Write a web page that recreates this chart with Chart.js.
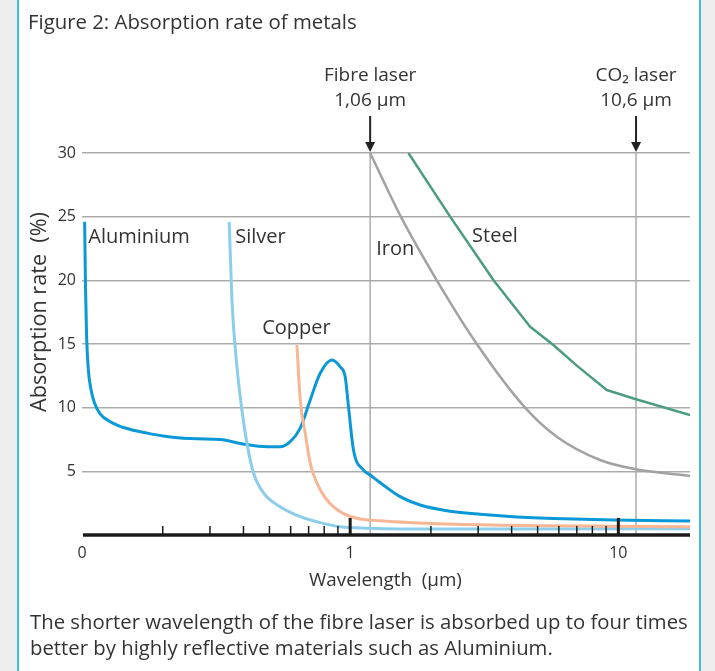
<!DOCTYPE html>
<html><head><meta charset="utf-8">
<script src="https://cdn.jsdelivr.net/npm/chart.js@4.4.1/dist/chart.umd.min.js"></script>
<style>
html,body{margin:0;padding:0;}
body{width:715px;height:671px;background:#eeeeee;position:relative;overflow:hidden;font-family:"Open Sans",sans-serif;color:#333;}
#panel{position:absolute;left:17px;top:0;width:680px;height:671px;background:#fff;border-left:2px solid #3cbde0;border-right:2px solid #3cbde0;}
#c{position:absolute;left:0;top:0;}
.t{position:absolute;white-space:nowrap;color:#333;line-height:26px;font-size:19px;}
#title{left:28px;top:8px;}
#cap1{left:30px;top:608px;}
#cap2{left:30px;top:634px;}
#xtitle{left:309px;top:566px;}
#ytitle{left:38px;top:312px;transform-origin:0 0;transform:translate(-13px,100px) rotate(-90deg);}
</style>
</head><body>
<div id="panel"></div>
<canvas id="c" width="715" height="671"></canvas>
<div class="t" id="title" data-w="329">Figure 2: Absorption rate of metals</div>
<div class="t" id="xtitle" data-w="153">Wavelength&nbsp; (µm)</div>
<div class="t" id="ytitle" data-w="200">Absorption rate&nbsp; (%)</div>
<div class="t" id="cap1" data-w="658">The shorter wavelength of the fibre laser is absorbed up to four times</div>
<div class="t" id="cap2">better by highly reflective materials such as Aluminium.</div>
<script>
// ---- data (wavelength in µm, absorption rate in %) ----
const aluminiumX = [0.1023,0.10305,0.10403,0.10556,0.10784,0.11112,0.117,0.1275,0.145,0.1747,0.2133,0.2684,0.3277,0.398,0.4904,0.548,0.5976,0.6514,0.7095,0.773,0.8547,0.918,0.958,0.9856,1.0287,1.121,1.187,1.294,1.536,1.823,2.293,3.052,4.06,6.24,9.58,18.5];
const aluminiumY = [24.6,19.5,15.6,13.0,11.5,10.4,9.5,8.9,8.4,8.0,7.7,7.55,7.5,7.15,6.93,6.93,7.33,8.4,10.6,12.7,13.74,13.2,12.43,10.08,6.68,5.1,4.71,4.11,3.01,2.36,1.91,1.63,1.44,1.28,1.18,1.1];
const silverX = [0.354,0.3623,0.3782,0.3948,0.412,0.436,0.4752,0.548,0.6514,0.773,0.918,1.154,1.536,4.0,18.5];
const silverY = [24.58,18.46,13.22,9.82,7.23,4.87,3.30,2.22,1.44,0.97,0.65,0.53,0.48,0.48,0.49];
const copperX = [0.633,0.6514,0.6796,0.7095,0.7516,0.819,0.918,1.059,1.294,2.293,5.41,18.5];
const copperY = [14.92,10.6,8.01,5.65,4.08,2.75,1.83,1.31,1.12,0.86,0.73,0.65];
const ironX = [1.187,1.545,2.104,2.967,4.49,5.893,8.546,11.64,18.5];
const ironY = [30,25,20,15,10,7.72,5.89,5.16,4.63];
const steelX = [1.649,2.359,3.42,4.688,5.724,7.0,9.05,11.64,18.5];
const steelY = [30,25.0,20.03,16.36,14.92,13.3,11.39,10.66,9.42];

const xLabelValues = [0.1, 1, 10];
const xLabelText = ['0', '1', '10'];
const xMinorTicks = [0.2,0.3,0.4,0.5,0.6,0.7,0.8,0.9,2,3,4,5,6,7,8,9];
const xMajorTicks = [1, 10];
const yTickValues = [0,5,10,15,20,25,30];
// laser reference lines (as drawn in the figure)
const laserValues = [1.187, 11.64];
const laserLabels = [['Fibre laser','1,06 µm'],['CO\u2082 laser','10,6 µm']];
const seriesNames = ['Aluminium','Silver','Copper','Iron','Steel'];
const seriesLabelX = [0.1055,0.3727,0.4699,1.25,2.849];
const seriesLabelY = [23.4,23.4,16.25,22.4,23.45];

// ---- fit HTML text widths ----
document.querySelectorAll('.t[data-w]').forEach(el=>{
  const w = el.getBoundingClientRect();
  const cur = el.id==='ytitle' ? w.height : w.width;
  const fs = 19*(+el.dataset.w)/cur;
  el.style.fontSize = fs.toFixed(2)+'px';
  if(el.id==='cap1') document.getElementById('cap2').style.fontSize = fs.toFixed(2)+'px';
});

const pts = (xs,ys)=>xs.map((x,i)=>({x:x,y:ys[i]}));
const FONT = '"Open Sans", sans-serif';

const annot = {
  id:'annot',
  beforeDatasetsDraw(chart){
    const {ctx, scales:{x,y}} = chart;
    ctx.save();
    ctx.strokeStyle='#ababab'; ctx.lineWidth=1.5;
    laserValues.forEach(v=>{
      const px=x.getPixelForValue(v);
      ctx.beginPath(); ctx.moveTo(px,y.getPixelForValue(30)); ctx.lineTo(px,y.getPixelForValue(0)); ctx.stroke();
    });
    ctx.restore();
  },
  afterDatasetsDraw(chart){
    const {ctx, chartArea:a, scales:{x,y}} = chart;
    const y0 = y.getPixelForValue(0), yTop = y.getPixelForValue(30);
    ctx.save();
    ctx.strokeStyle='#1a1a1a'; ctx.fillStyle='#1a1a1a';
    ctx.lineWidth=3.5;
    ctx.beginPath(); ctx.moveTo(a.left+1,y0); ctx.lineTo(a.right,y0); ctx.stroke();
    ctx.lineWidth=1.5;
    xMinorTicks.forEach(v=>{const px=x.getPixelForValue(v);ctx.beginPath();ctx.moveTo(px,y0);ctx.lineTo(px,y0-9);ctx.stroke();});
    ctx.lineWidth=3;
    xMajorTicks.forEach(v=>{const px=x.getPixelForValue(v);ctx.beginPath();ctx.moveTo(px,y0);ctx.lineTo(px,y0-17);ctx.stroke();});
    laserValues.forEach((v,i)=>{
      const px=x.getPixelForValue(v);
      ctx.strokeStyle='#222'; ctx.fillStyle='#222'; ctx.lineWidth=2;
      ctx.beginPath(); ctx.moveTo(px,yTop-37); ctx.lineTo(px,yTop-9); ctx.stroke();
      ctx.beginPath(); ctx.moveTo(px-5,yTop-11); ctx.lineTo(px+5,yTop-11); ctx.lineTo(px,yTop-1); ctx.closePath(); ctx.fill();
      ctx.fillStyle='#333'; ctx.font='19px '+FONT; ctx.textAlign='center'; ctx.textBaseline='middle';
      ctx.fillText(laserLabels[i][0],px,yTop-77);
      ctx.fillText(laserLabels[i][1],px,yTop-52);
    });
    ctx.fillStyle='#333'; ctx.font='20px '+FONT; ctx.textAlign='left'; ctx.textBaseline='middle';
    seriesNames.forEach((n,i)=>ctx.fillText(n,x.getPixelForValue(seriesLabelX[i]),y.getPixelForValue(seriesLabelY[i])));
    ctx.restore();
  }
};

const ds = (label,xs,ys,color,w,mono)=>({label,data:pts(xs,ys),borderColor:color,borderWidth:w,pointRadius:0,fill:false,
  cubicInterpolationMode: mono?'monotone':'default', tension: mono?0.4:0, borderCapStyle:'butt', borderJoinStyle:'round'});

new Chart(document.getElementById('c'),{
  type:'line',
  data:{datasets:[
    ds('Copper',copperX,copperY,'#f7b794',3,true),
    ds('Silver',silverX,silverY,'#8dcdec',3,true),
    ds('Aluminium',aluminiumX,aluminiumY,'#0a99d6',3,true),
    ds('Iron',ironX,ironY,'#a3a1a2',2.5,true),
    ds('Steel',steelX,steelY,'#4b9c80',2.5,false)
  ]},
  options:{
    responsive:false, animation:false, devicePixelRatio:1,
    layout:{padding:{top:153,right:25,left:0,bottom:0}},
    plugins:{legend:{display:false},tooltip:{enabled:false}},
    scales:{
      x:{type:'logarithmic',min:0.1,max:18.5,
        grid:{display:false,drawTicks:false},border:{display:false},
        afterBuildTicks:s=>{s.ticks=xLabelValues.map(v=>({value:v}));},
        afterFit:s=>{s.height=136;},
        ticks:{autoSkip:false,maxRotation:0,padding:9,color:'#333',font:{family:FONT,size:16},
          callback:(v,i)=>xLabelText[i]}},
      y:{min:0,max:30,
        afterFit:s=>{s.width=82;},
        afterBuildTicks:s=>{s.ticks=yTickValues.map(v=>({value:v}));},
        grid:{color:c=>(c.tick&&c.tick.value===0)?'rgba(0,0,0,0)':'#ababab',lineWidth:1.5,drawTicks:false},
        border:{display:false},
        ticks:{padding:6,color:'#333',font:{family:FONT,size:16},callback:v=>v===0?'':String(v)}}
    }
  },
  plugins:[annot]
});
</script>
</body></html>
